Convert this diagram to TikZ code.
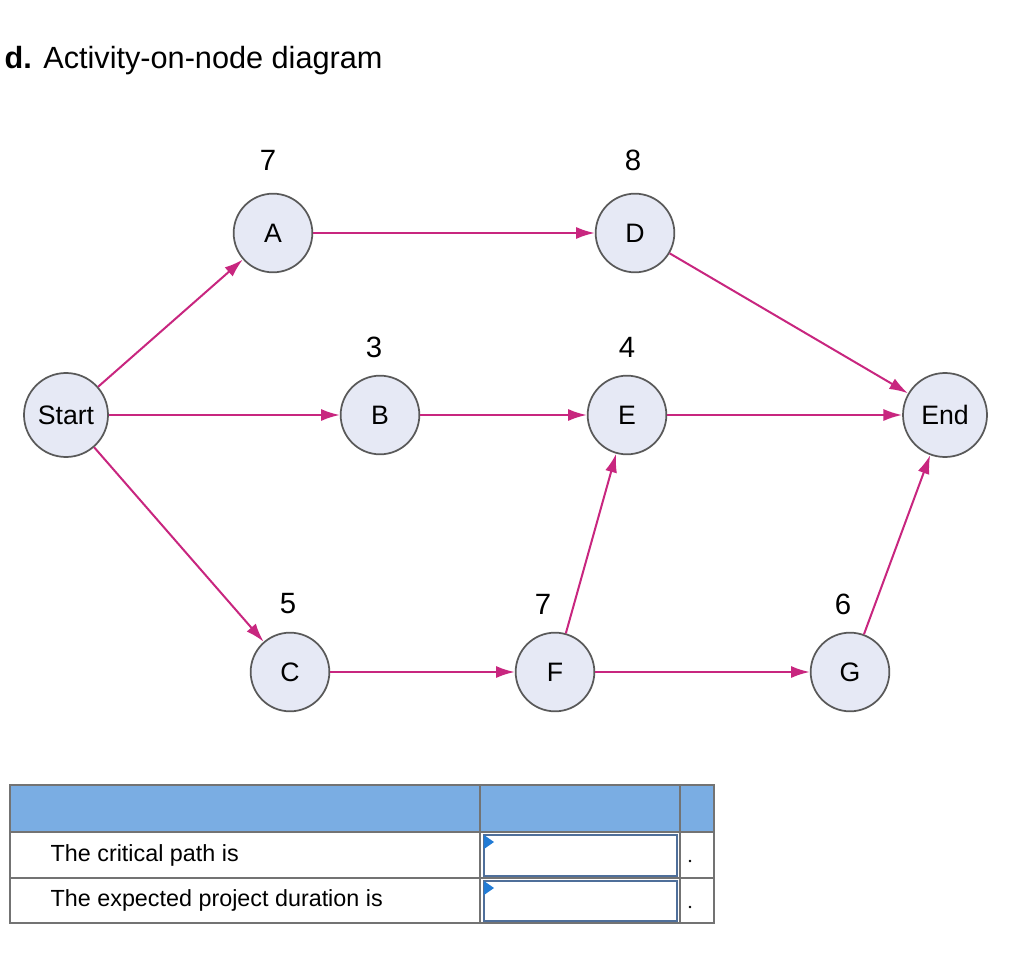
\documentclass[tikz,border=0pt]{standalone}
\usepackage{fontspec}
\setmainfont{Liberation Sans}
\usetikzlibrary{arrows.meta}
\definecolor{arr}{HTML}{C8267F}
\definecolor{nfill}{HTML}{E6E9F5}
\definecolor{hdr}{HTML}{7AADE3}
\definecolor{inb}{HTML}{4F6F9A}
\begin{document}
\begin{tikzpicture}[x=0.75pt,y=-0.75pt,
  act/.style={circle,draw=black!65,line width=1.3pt,fill=nfill,minimum size=59pt,inner sep=0pt,font=\fontsize{20}{20}\selectfont},
  big/.style={minimum size=63pt},
  num/.style={font=\fontsize{22}{22}\selectfont},
  link/.style={draw=arr,line width=1.5pt,-{Latex[length=14pt,width=9pt]}},
  cell/.style={draw=black!55,line width=1pt}]
\useasboundingbox (0,0) rectangle (1012,969);
\node[anchor=west,font=\fontsize{23}{23}\selectfont] (title) at (0,61) {\textbf{d.} Activity-on-node diagram};
\node[act,big] (S) at (66,415) {Start};
\node[act] (A) at (273,233) {A};
\node[act] (D) at (635,233) {D};
\node[act] (B) at (380,415) {B};
\node[act] (E) at (627,415) {E};
\node[act,big] (End) at (945,415) {End};
\node[act] (C) at (290,672) {C};
\node[act] (F) at (555,672) {F};
\node[act] (G) at (850,672) {G};
\node[num] (nA) at (268,160) {7};
\node[num] (nD) at (633,160) {8};
\node[num] (nB) at (374,347) {3};
\node[num] (nE) at (627,347) {4};
\node[num] (nC) at (288,604) {5};
\node[num] (nF) at (543,604) {7};
\node[num] (nG) at (843,604) {6};
\draw[link] (S) -- (A);
\draw[link] (S) -- (B);
\draw[link] (S) -- (C);
\draw[link] (A) -- (D);
\draw[link] (B) -- (E);
\draw[link] (D) -- (End);
\draw[link] (E) -- (End);
\draw[link] (C) -- (F);
\draw[link] (F) -- (E);
\draw[link] (F) -- (G);
\draw[link] (G) -- (End);
% table
\fill[hdr] (10,785) rectangle (714,832);
\draw[cell] (10,785) rectangle (714,923);
\draw[cell] (10,832) -- (714,832);
\draw[cell] (10,878) -- (714,878);
\draw[cell] (480,785) -- (480,923);
\draw[cell] (680,785) -- (680,923);
\node[anchor=west,font=\fontsize{17.5}{17.5}\selectfont] (t1) at (46,855) {The critical path is};
\node[anchor=west,font=\fontsize{17.5}{17.5}\selectfont] (t2) at (46,900) {The expected project duration is};
\draw[inb,line width=2pt,fill=white] (484,835) rectangle (677,876);
\draw[inb,line width=2pt,fill=white] (484,881) rectangle (677,921);
\fill[inb!60!blue!70!cyan] (484,835) -- (494,842) -- (484,849) -- cycle;
\fill[inb!60!blue!70!cyan] (484,881) -- (494,888) -- (484,895) -- cycle;
\fill (690,861) circle (1.3);
\fill (690,907) circle (1.3);
\end{tikzpicture}
\end{document}
